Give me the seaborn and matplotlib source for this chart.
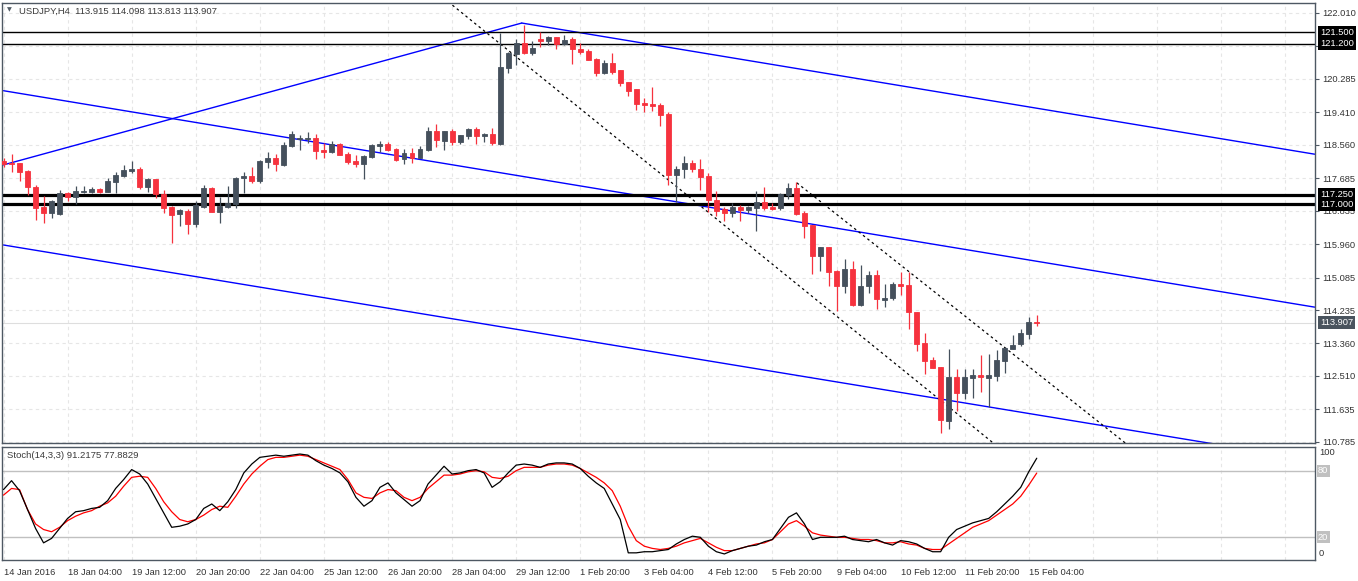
import numpy as np
import pandas as pd
import matplotlib
matplotlib.use('Agg')
from matplotlib import pyplot as plt
from matplotlib import transforms
import seaborn as sns

# ---- candles, USDJPY H4 ----
opens = [118.13, 118.09, 118.07, 117.87, 117.46, 116.94, 116.78, 116.75, 117.30, 117.20,
         117.32, 117.33, 117.40, 117.32, 117.59, 117.75, 117.88, 117.92, 117.46, 117.66,
         117.27, 116.92, 116.74, 116.82, 116.48, 116.94, 117.42, 116.81, 116.94, 117.02,
         117.70, 117.74, 117.60, 118.11, 118.22, 118.03, 118.52, 118.70, 118.72, 118.74,
         118.42, 118.37, 118.57, 118.31, 118.13, 118.05, 118.24, 118.53, 118.57, 118.44,
         118.18, 118.33, 118.22, 118.42, 118.92, 118.66, 118.92, 118.64, 118.79, 118.96,
         118.79, 118.83, 118.57, 120.57, 120.92, 121.21, 120.95, 121.32, 121.27, 121.38,
         121.18, 121.31, 121.06, 121.01, 120.79, 120.44, 120.70, 120.51, 120.21, 120.01,
         119.66, 119.62, 119.60, 119.36, 117.77, 117.91, 118.07, 117.92, 117.74, 117.11,
         116.87, 116.78, 116.94, 116.85, 116.91, 117.05, 116.94, 116.89, 117.23, 117.43,
         116.78, 116.46, 115.65, 115.87, 115.26, 114.85, 115.31, 114.37, 114.85, 115.15,
         114.50, 114.54, 114.92, 114.89, 114.19, 113.36, 112.93, 112.75, 111.34, 112.47,
         112.07, 112.45, 112.54, 112.45, 112.52, 112.91, 113.22, 113.34, 113.61, 113.915]
highs = [118.20, 118.31, 118.08, 117.90, 117.50, 117.22, 117.11, 117.37, 117.33, 117.48,
         117.48, 117.44, 117.43, 117.70, 117.85, 118.03, 118.13, 117.97, 117.70, 117.66,
         117.37, 116.95, 116.87, 116.87, 117.09, 117.50, 117.44, 117.18, 117.48, 117.72,
         117.84, 117.97, 118.16, 118.36, 118.31, 118.64, 118.92, 118.81, 118.88, 118.85,
         118.59, 118.66, 118.59, 118.38, 118.29, 118.29, 118.57, 118.66, 118.62, 118.48,
         118.44, 118.48, 118.52, 119.01, 119.09, 118.92, 118.97, 118.81, 118.99, 119.03,
         118.87, 119.00, 121.47, 120.97, 121.32, 121.70, 121.27, 121.51, 121.41, 121.38,
         121.43, 121.38, 121.21, 121.05, 120.82, 120.77, 120.95, 120.51, 120.21, 120.01,
         119.79, 120.08, 119.64, 119.42, 118.01, 118.27, 118.16, 118.18, 117.83, 117.35,
         116.92, 117.03, 116.98, 116.95, 117.35, 117.46, 117.04, 117.29, 117.55, 117.57,
         116.82, 116.46, 115.87, 115.87, 115.28, 115.57, 115.52, 115.41, 115.25, 115.28,
         114.91, 114.96, 115.24, 115.24, 114.19, 113.64, 113.00, 112.75, 113.22, 112.69,
         112.69, 112.69, 113.06, 113.08, 113.19, 113.28, 113.58, 113.74, 114.06, 114.098]
lows = [117.98, 117.85, 117.62, 117.24, 116.59, 116.52, 116.65, 116.73, 117.09, 117.02,
        117.29, 117.29, 117.29, 117.31, 117.29, 117.72, 117.83, 117.40, 117.33, 117.17,
        116.78, 115.99, 116.44, 116.21, 116.41, 116.91, 116.81, 116.50, 116.91, 116.91,
        117.29, 117.55, 117.55, 117.96, 117.88, 118.01, 118.51, 118.42, 118.61, 118.18,
        118.22, 118.35, 118.29, 118.05, 117.98, 117.66, 118.20, 118.38, 118.40, 118.14,
        118.05, 118.09, 118.20, 118.40, 118.51, 118.42, 118.55, 118.57, 118.70, 118.57,
        118.64, 118.55, 118.55, 120.44, 120.64, 120.93, 120.90, 121.12, 121.17, 121.06,
        121.17, 120.67, 120.93, 120.77, 120.35, 120.41, 120.42, 120.09, 119.84, 119.47,
        119.42, 119.45, 119.05, 117.50, 117.07, 117.68, 117.85, 117.37, 116.81, 116.69,
        116.55, 116.68, 116.57, 116.76, 116.31, 116.85, 116.85, 116.85, 117.14, 116.72,
        116.13, 115.18, 115.26, 114.86, 114.22, 114.67, 114.35, 114.34, 114.67, 114.26,
        114.32, 114.50, 114.63, 113.74, 113.15, 112.55, 112.73, 111.01, 111.12, 111.59,
        111.91, 111.93, 112.10, 111.71, 112.38, 112.60, 113.21, 113.30, 113.48, 113.813]
closes = [118.05, 118.05, 117.85, 117.44, 116.91, 116.78, 117.09, 117.30, 117.20, 117.35,
          117.35, 117.41, 117.33, 117.61, 117.77, 117.90, 117.92, 117.46, 117.66, 117.26,
          116.91, 116.72, 116.85, 116.48, 116.98, 117.42, 116.81, 116.95, 117.04, 117.70,
          117.74, 117.61, 118.13, 118.22, 118.05, 118.55, 118.84, 118.74, 118.74, 118.40,
          118.37, 118.57, 118.29, 118.11, 118.05, 118.26, 118.55, 118.57, 118.42, 118.16,
          118.33, 118.20, 118.44, 118.92, 118.68, 118.92, 118.62, 118.81, 118.96, 118.79,
          118.84, 118.59, 120.60, 120.95, 121.21, 120.95, 121.10, 121.27, 121.38, 121.18,
          121.30, 121.05, 120.99, 120.77, 120.44, 120.70, 120.45, 120.18, 119.97, 119.62,
          119.60, 119.57, 119.34, 117.77, 117.92, 118.07, 117.91, 117.72, 117.11, 116.83,
          116.78, 116.94, 116.85, 116.94, 117.05, 116.89, 116.88, 117.27, 117.43, 116.75,
          116.43, 115.65, 115.87, 115.24, 114.85, 115.31, 114.37, 114.86, 115.15, 114.51,
          114.54, 114.92, 114.87, 114.17, 113.35, 112.91, 112.73, 111.36, 112.47, 112.07,
          112.47, 112.54, 112.47, 112.54, 112.93, 113.25, 113.32, 113.64, 113.92, 113.907]

# ---- Stoch(14,3,3): %K (main) and %D (signal) ----
stoch_k = [63, 71, 62, 45, 28, 15, 19, 28, 37, 43, 44, 46, 47, 53, 64, 72, 81, 77, 68, 55,
           42, 29, 30, 32, 36, 46, 50, 44, 52, 63, 78, 86, 92, 93, 94, 93, 94, 95, 94, 89,
           85, 82, 78, 70, 56, 48, 53, 65, 69, 60, 54, 48, 53, 68, 76, 84, 77, 78, 80, 81,
           78, 65, 70, 78, 85, 86, 85, 83, 86, 87, 87, 86, 82, 75, 69, 64, 50, 36, 6, 6,
           7, 7, 8, 9, 14, 18, 21, 20, 12, 7, 5, 8, 10, 12, 13, 16, 18, 28, 38, 42,
           32, 18, 20, 20, 20, 21, 18, 17, 16, 18, 15, 13, 17, 16, 14, 10, 7, 7, 20, 27,
           30, 33, 35, 37, 43, 50, 57, 65, 79, 91.2175]
stoch_d = [58, 64, 63, 45, 32, 27, 25, 29, 35, 39, 42, 44, 48, 51, 57, 66, 74, 75, 74, 64,
           52, 43, 36, 34, 36, 40, 45, 48, 47, 57, 68, 77, 84, 90, 92, 92, 93, 94, 93, 90,
           87, 84, 81, 72, 60, 56, 55, 60, 63, 62, 56, 53, 56, 64, 70, 76, 76, 77, 79, 80,
           79, 74, 73, 75, 80, 83, 83, 83, 85, 86, 86, 85, 82, 78, 74, 69, 62, 48, 30, 17,
           12, 10, 9, 10, 12, 15, 17, 19, 15, 11, 8, 8, 10, 12, 14, 15, 18, 25, 32, 35,
           30, 24, 22, 21, 20, 20, 19, 18, 18, 17, 15, 15, 16, 14, 13, 10, 9, 9, 14, 19,
           24, 29, 32, 35, 40, 45, 50, 57, 67, 77.8829]

# ---- axis text ----
time_labels = ['14 Jan 2016', '18 Jan 04:00', '19 Jan 12:00', '20 Jan 20:00', '22 Jan 04:00',
               '25 Jan 12:00', '26 Jan 20:00', '28 Jan 04:00', '29 Jan 12:00', '1 Feb 20:00',
               '3 Feb 04:00', '4 Feb 12:00', '5 Feb 20:00', '9 Feb 04:00', '10 Feb 12:00',
               '11 Feb 20:00', '15 Feb 04:00']
price_ticks = [122.010, 121.135, 120.285, 119.410, 118.560, 117.685, 116.835, 115.960,
               115.085, 114.235, 113.360, 112.510, 111.635, 110.785]
hidden_ticks = [121.135]   # covered by the 121.200 marker in the original
thin_levels = [121.500, 121.200]
thick_levels = [117.250, 117.000]
last_price = 113.907

# trend line anchors (bar, price)
blue_lines = [[(0, 118.03), (64.7, 121.74)],
              [(64.7, 121.74), (163.7, 118.31)],
              [(0, 119.97), (163.7, 114.31)],
              [(0, 115.935), (163.7, 110.30)]]
dashed_lines = [[(55.5, 122.30), (124.2, 110.65)],
                [(99.05, 117.56), (141.0, 110.60)]]

bull = '#45505c'
bear = '#f6323e'
frame = '#4e5863'
grid_c = '#e6e6e6'

sns.set_theme(style='white')
plt.rcParams['font.family'] = ['Liberation Sans', 'DejaVu Sans']

W, H = 1358, 581
AX_W = 1313
fig = plt.figure(figsize=(W / 100, H / 100), dpi=100)
fig.patch.set_facecolor('white')
ax = fig.add_axes([2 / W, (H - 443) / H, AX_W / W, 440 / H])
ax2 = fig.add_axes([2 / W, (H - 560) / H, AX_W / W, 113.3 / H])

n = len(opens)
bars = np.arange(n)
xmin, xmax = -0.19, 163.74

# ---- main price panel ----
for i in range(n):
    o, h, l, c = opens[i], highs[i], lows[i], closes[i]
    col = bull if c >= o else bear
    ax.vlines(i, l, h, color=col, lw=0.9, zorder=3)
    ax.bar(i, abs(c - o), bottom=min(o, c), width=0.62, color=col,
           edgecolor=col, lw=0.6, zorder=4)

for seg in blue_lines:
    ax.plot([seg[0][0], seg[1][0]], [seg[0][1], seg[1][1]], color='#0000ff', lw=1.0, zorder=2)
for seg in dashed_lines:
    ax.plot([seg[0][0], seg[1][0]], [seg[0][1], seg[1][1]], color='black', lw=0.9,
            ls=(0, (2, 2.5)), zorder=2)
for lv in thin_levels:
    ax.axhline(lv, color='black', lw=1.0, zorder=2)
for lv in thick_levels:
    ax.axhline(lv, color='black', lw=2.3, zorder=2)
ax.axhline(last_price, color='#dedede', lw=0.8, zorder=1)

ax.set_xlim(xmin, xmax)
ax.set_ylim(110.757, 122.264)
ax.set_xticks(np.arange(0, 164, 8))
ax.set_xticklabels([])
ax.set_yticks(price_ticks)
ax.set_yticklabels(['' if p in hidden_ticks else '%.3f' % p for p in price_ticks])
ax.yaxis.tick_right()
ax.tick_params(axis='x', length=0)
ax.tick_params(axis='y', direction='out', length=3, width=0.8, pad=2.3,
               labelsize=6.7, colors=frame, labelcolor='#333333')
ax.grid(True, color=grid_c, lw=0.8, ls=(0, (3, 3)))
for s in ax.spines.values():
    s.set_color(frame)
    s.set_linewidth(1.0)

dx = 5 / AX_W
tr = transforms.blended_transform_factory(ax.transAxes, ax.transData)
for lv in thin_levels + thick_levels:
    ax.text(1 + dx, lv, '%.3f' % lv, transform=tr, ha='left', va='center', fontsize=6.7,
            color='white', zorder=10,
            bbox=dict(boxstyle='square,pad=0.2', fc='black', ec='none'))
ax.text(1 + dx, last_price, '%.3f' % last_price, transform=tr, ha='left', va='center',
        fontsize=6.7, color='white', zorder=10,
        bbox=dict(boxstyle='square,pad=0.2', fc='#4a545e', ec='none'))

ax.text(5 / AX_W, 1 - 7 / 440, '\u25bc', transform=ax.transAxes, fontsize=4.5,
        color='#505a64', ha='left', va='center', family=['DejaVu Sans'])
ax.text(17 / AX_W, 1 - 8 / 440,
        'USDJPY,H4  %.3f %.3f %.3f %.3f' % (opens[-1], highs[-1], lows[-1], closes[-1]),
        transform=ax.transAxes, fontsize=6.8, color='#3a3a3a', ha='left', va='center')

# ---- stochastic panel ----
stoch = pd.DataFrame({'bar': bars, 'k': stoch_k, 'd': stoch_d})
sns.lineplot(data=stoch, x='bar', y='d', ax=ax2, color='#ff0000', lw=0.9, zorder=3)
sns.lineplot(data=stoch, x='bar', y='k', ax=ax2, color='black', lw=0.9, zorder=4)
for lv in [80, 20]:
    ax2.axhline(lv, color='#c0c0c0', lw=1.0, zorder=1)
ax2.set_xlim(xmin, xmax)
ax2.set_ylim(-0.45, 101.6)
ax2.set_xlabel('')
ax2.set_ylabel('')
ax2.set_xticks(np.arange(0, 164, 8))
ax2.set_xticklabels(time_labels + [''] * 4, ha='left')
ax2.tick_params(axis='x', direction='out', length=4, width=0.8, pad=1.5, labelsize=6.7,
                colors=frame, labelcolor='#333333')
ax2.set_yticks([])
ax2.grid(True, axis='x', color=grid_c, lw=0.8, ls=(0, (3, 3)))
for s in ax2.spines.values():
    s.set_color(frame)
    s.set_linewidth(1.0)
tr2 = transforms.blended_transform_factory(ax2.transAxes, ax2.transData)
for lv, txt in [(96, '100'), (5.5, '0')]:
    ax2.text(1 + 4 / AX_W, lv, txt, transform=tr2, ha='left', va='center', fontsize=6.7,
             color='#333333')
for lv in [80, 20]:
    ax2.text(1 + 3 / AX_W, lv, str(lv), transform=tr2, ha='left', va='center', fontsize=6.7,
             color='white', zorder=10,
             bbox=dict(boxstyle='square,pad=0.15', fc='#c0c0c0', ec='none'))
ax2.text(5 / AX_W, 1 - 9 / 113, 'Stoch(14,3,3) %.4f %.4f' % (stoch_k[-1], stoch_d[-1]),
         transform=ax2.transAxes, fontsize=6.8, color='#3a3a3a', ha='left', va='center')

fig.savefig('out.png', dpi=100, facecolor='white')
